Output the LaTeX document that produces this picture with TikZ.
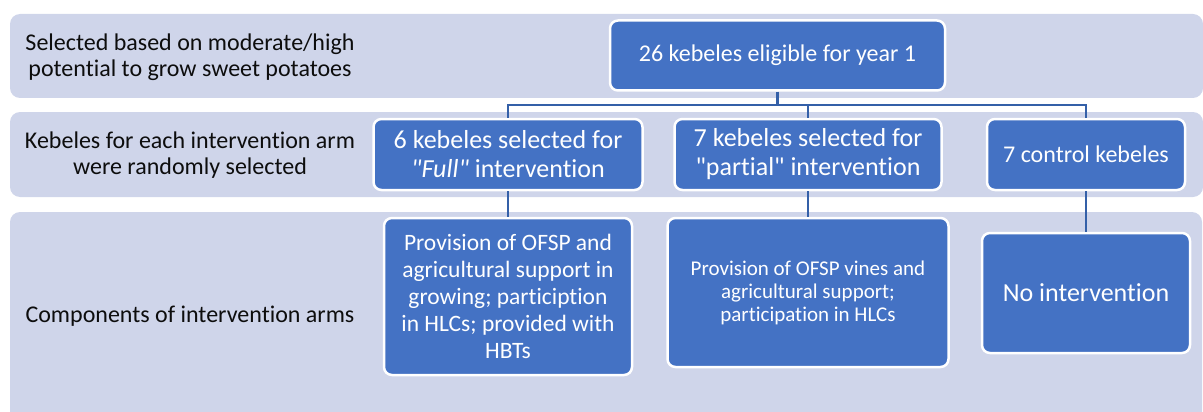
\documentclass[tikz,border=0pt]{standalone}
\usepackage{fontspec}
\setmainfont{Carlito}[Ligatures={TeXOff,NoCommon}]
\usetikzlibrary{backgrounds}
\definecolor{bandfill}{HTML}{CFD5EA}
\definecolor{boxblue}{HTML}{4472C4}
\definecolor{lineblue}{HTML}{3460A8}
\definecolor{labeltext}{HTML}{0D0D0D}
\begin{document}
\begin{tikzpicture}[x=1pt,y=-1pt,
  bandbox/.style={fill=bandfill, rounded corners=10pt},
  lbl/.style={align=center, text=labeltext, font=\fontsize{24}{26}\selectfont, inner sep=0pt},
  bx/.style={draw=white, line width=2.5pt, fill=boxblue, rounded corners=8pt, text=white, align=center, inner sep=0pt},
  conn/.style={draw=lineblue, line width=2.2pt}]
\useasboundingbox (0,0) rectangle (1203,412);
\begin{scope}[on background layer]
\fill[bandbox] (10,14) rectangle (1203,98);
\fill[bandbox] (10,112) rectangle (1203,197);
\fill[bandbox] (10,212) rectangle (1202,430);
\end{scope}
% left labels
\node[lbl] (l1) at (190,57) {Selected based on moderate/high\\potential to grow sweet potatoes};
\node[lbl] (l2) at (190,155) {Kebeles for each intervention arm\\were randomly selected};
\node[lbl] (l3) at (190,316) {Components of intervention arms};
% boxes
\node[bx, minimum width=335pt, minimum height=70pt, font=\fontsize{24}{29}\selectfont] (top) at (777.5,55.5) {26 kebeles eligible for year 1};
\node[bx, minimum width=269pt, minimum height=71pt, font=\fontsize{26}{29}\selectfont] (full) at (508,154.5) {6 kebeles selected for\\\textit{"Full"} intervention};
\node[bx, minimum width=267pt, minimum height=71pt, font=\fontsize{26}{29}\selectfont] (part) at (808,154.5) {7 kebeles selected for\\"partial" intervention};
\node[bx, minimum width=198pt, minimum height=71pt, font=\fontsize{24}{29}\selectfont] (ctrl) at (1086,154.5) {7 control kebeles};
\node[bx, minimum width=248pt, minimum height=157pt, font=\fontsize{23.5}{27}\selectfont] (fullc) at (508,296.5) {Provision of OFSP and\\agricultural support in\\growing; particiption\\in HLCs; provided with\\HBTs};
\node[bx, minimum width=281pt, minimum height=149pt, font=\fontsize{21}{23}\selectfont] (partc) at (808,292.5) {Provision of OFSP vines and\\agricultural support;\\participation in HLCs};
\node[bx, minimum width=208pt, minimum height=120pt, font=\fontsize{26}{30}\selectfont] (noint) at (1086,293) {No intervention};
% connectors
\coordinate (bus) at (0,105);
\draw[conn] (top.south) -- (top.south |- bus);
\draw[conn] (full.north) |- (ctrl.north |- bus) -- (ctrl.north);
\draw[conn] (part.north) -- (part.north |- bus);
\draw[conn] (full.south) -- (fullc.north);
\draw[conn] (part.south) -- (partc.north);
\draw[conn] (ctrl.south) -- (noint.north);
\end{tikzpicture}
\end{document}
